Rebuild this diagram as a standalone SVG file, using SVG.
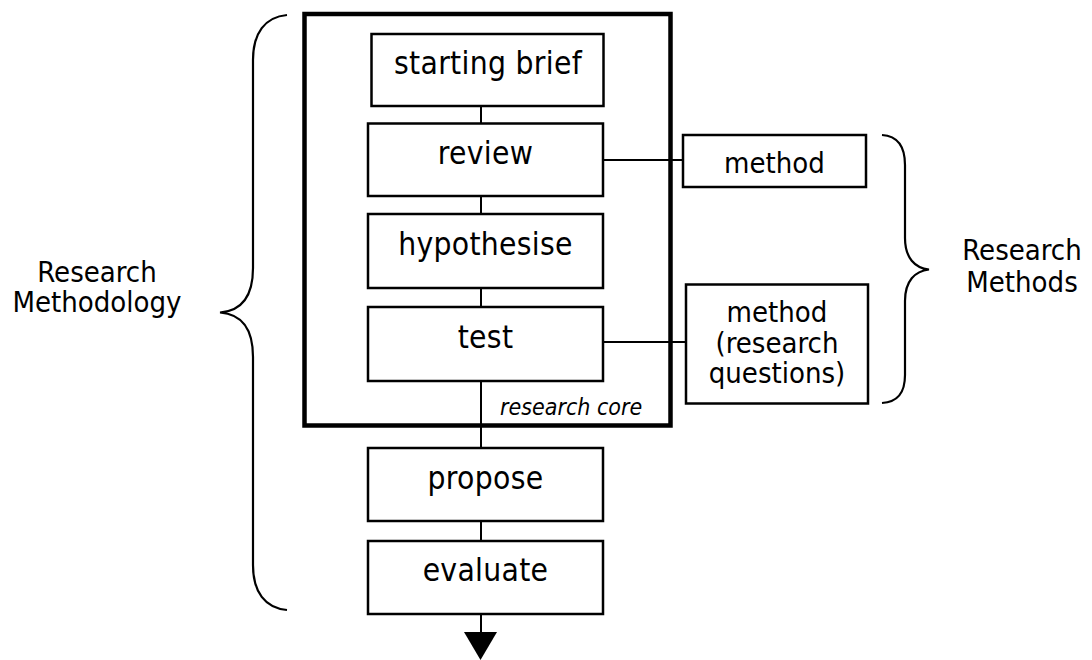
<svg xmlns="http://www.w3.org/2000/svg" width="1092" height="660" viewBox="0 0 1092 660">
  <defs>
    <style>
      .box { fill: #fff; stroke: #000; stroke-width: 2.5; }
      .core { fill: none; stroke: #000; stroke-width: 4.5; }
      .link { fill: none; stroke: #000; stroke-width: 2; }
      .brace { fill: none; stroke: #000; stroke-width: 2.2; stroke-linecap: butt; }
      text { font-family: "DejaVu Sans Condensed", "DejaVu Sans", Verdana, sans-serif; font-stretch: condensed; fill: #000; }
      .lbl { font-size: 31.5px; letter-spacing: 0.3px; text-anchor: middle; }
      .side { font-size: 29px; text-anchor: middle; }
      .note { font-size: 23px; font-style: italic; }
    </style>
  </defs>
  <rect width="1092" height="660" fill="#fff"/>

  <!-- research core frame -->
  <g id="research-core">
    <rect class="core" x="304.5" y="14" width="366" height="411.5"/>
    <text class="note" x="500" y="415">research core</text>
  </g>

  <!-- connectors -->
  <g id="connectors">
    <line class="link" x1="481" y1="106" x2="481" y2="123.5"/>
    <line class="link" x1="481" y1="196" x2="481" y2="214"/>
    <line class="link" x1="481" y1="288" x2="481" y2="307"/>
    <line class="link" x1="481" y1="381" x2="481" y2="448"/>
    <line class="link" x1="481" y1="521" x2="481" y2="541"/>
    <line class="link" x1="481" y1="614" x2="481" y2="633"/>
    <polygon points="464,632 497,632 480.5,660" fill="#000"/>
    <line class="link" x1="603" y1="160" x2="683" y2="160"/>
    <line class="link" x1="603" y1="342" x2="686" y2="342"/>
  </g>

  <g id="starting-brief">
    <rect class="box" x="371.5" y="34" width="232" height="72"/>
    <text class="lbl" x="488" y="74">starting brief</text>
  </g>
  <g id="review">
    <rect class="box" x="368" y="123.5" width="235" height="72.5"/>
    <text class="lbl" x="485.5" y="163.5">review</text>
  </g>
  <g id="hypothesise">
    <rect class="box" x="368" y="214" width="235" height="74"/>
    <text class="lbl" x="485.5" y="254.5">hypothesise</text>
  </g>
  <g id="test">
    <rect class="box" x="368" y="307" width="235" height="74"/>
    <text class="lbl" x="485.5" y="347.5">test</text>
  </g>
  <g id="propose">
    <rect class="box" x="368" y="448" width="235" height="73"/>
    <text class="lbl" x="485.5" y="488.5">propose</text>
  </g>
  <g id="evaluate">
    <rect class="box" x="368" y="541" width="235" height="73"/>
    <text class="lbl" x="485.5" y="581">evaluate</text>
  </g>

  <g id="method-review">
    <rect class="box" x="683" y="135" width="183" height="52"/>
    <text class="side" x="774.5" y="172.5">method</text>
  </g>
  <g id="method-test">
    <rect class="box" x="686" y="284.5" width="182" height="119"/>
    <text class="side" x="777" y="321.5">method</text>
    <text class="side" x="777" y="352.5">(research</text>
    <text class="side" x="777" y="383">questions)</text>
  </g>

  <!-- grouping braces -->
  <g id="methodology">
    <path class="brace" d="M287,15 C265,17 253,33 253,60 L253,268 C253,298 240,311 220,312.5 C240,314 253,327 253,357 L253,565 C253,592 265,608 287,610"/>
    <text class="side" x="97" y="281.5">Research</text>
    <text class="side" x="97" y="311.5">Methodology</text>
  </g>
  <g id="methods">
    <path class="brace" d="M882,135 C897,136 905,146 905,165 L905,238 C905,258 915,268 929,269.5 C915,271 905,281 905,301 L905,375 C905,394 897,402 882,403"/>
    <text class="side" x="1022" y="260">Research</text>
    <text class="side" x="1022" y="291.5">Methods</text>
  </g>
</svg>
